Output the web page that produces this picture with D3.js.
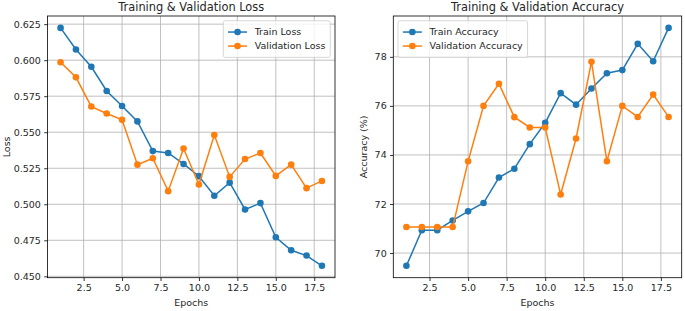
<!DOCTYPE html>
<html>
<head>
<meta charset="utf-8">
<script src="https://cdn.jsdelivr.net/npm/d3@7"></script>
<style>
  html, body { margin: 0; padding: 0; background: #fff; }
  svg { display: block; font-family: "DejaVu Sans", sans-serif; }
</style>
</head>
<body>
<svg id="chart" width="685" height="311"></svg>
<script>
// ---- Data ----
const epochs = [1,2,3,4,5,6,7,8,9,10,11,12,13,14,15,16,17,18];
const trainLoss = [0.6224,0.6074,0.5954,0.5786,0.5682,0.5575,0.5369,0.5356,0.5280,0.5195,0.5059,0.5150,0.4964,0.5008,0.4771,0.4681,0.4644,0.4573];
const valLoss = [0.5986,0.5881,0.5678,0.5630,0.5586,0.5275,0.5319,0.5091,0.5387,0.5137,0.5480,0.5190,0.5314,0.5356,0.5197,0.5275,0.5112,0.5162];
const trainAcc = [69.48,70.93,70.93,71.33,71.70,72.04,73.08,73.44,74.44,75.31,76.52,76.05,76.71,77.33,77.46,78.53,77.82,79.18];
const valAcc = [71.06,71.06,71.06,71.06,73.74,76.00,76.90,75.54,75.12,75.12,72.39,74.67,77.80,73.74,76.00,75.55,76.46,75.55];
const xTicks = [2.5,5.0,7.5,10.0,12.5,15.0,17.5];
const lossTicks = [0.450,0.475,0.500,0.525,0.550,0.575,0.600,0.625];
const accTicks = [70,72,74,76,78];

const C_TRAIN = "#1f77b4", C_VAL = "#ff7f0e";
const svg = d3.select("#chart");
const FS = 9.5;
const MR = 3.3;

function panel(opts) {
  const {left, right, top, bottom, title, ylabel, yTicks, yFmt, s1, s2, n1, n2, legendSide, ylabelX} = opts;
  const g = svg.append("g");
  const xExt = d3.extent(epochs), xm = (xExt[1]-xExt[0])*0.05;
  const x = d3.scaleLinear().domain([xExt[0]-xm, xExt[1]+xm]).range([left, right]);
  const all = s1.concat(s2);
  const yExt = d3.extent(all), ym = (yExt[1]-yExt[0])*0.05;
  const y = d3.scaleLinear().domain([yExt[0]-ym, yExt[1]+ym]).range([bottom, top]);

  // grid
  g.append("g").selectAll("line").data(xTicks).join("line")
    .attr("x1", d => x(d)).attr("x2", d => x(d)).attr("y1", top).attr("y2", bottom)
    .attr("stroke", "#b0b0b0").attr("stroke-width", 0.8);
  g.append("g").selectAll("line").data(yTicks).join("line")
    .attr("x1", left).attr("x2", right).attr("y1", d => y(d)).attr("y2", d => y(d))
    .attr("stroke", "#b0b0b0").attr("stroke-width", 0.8);

  // axes
  const xAxis = d3.axisBottom(x).tickValues(xTicks).tickFormat(d3.format(".1f")).tickSize(3.3).tickPadding(3.3);
  const yAxis = d3.axisLeft(y).tickValues(yTicks).tickFormat(yFmt).tickSize(3.3).tickPadding(3.3);
  const gx = g.append("g").attr("transform", `translate(0,${bottom})`).call(xAxis);
  const gy = g.append("g").attr("transform", `translate(${left},0)`).call(yAxis);
  [gx, gy].forEach(a => {
    a.select(".domain").remove();
    a.selectAll("text").attr("font-size", FS).attr("fill", "#262626").attr("font-family", "DejaVu Sans");
    a.selectAll("line").attr("stroke", "#000").attr("stroke-width", 0.8);
  });

  // series
  const line = d3.line().x((d,i) => x(epochs[i])).y(d => y(d));
  [[s1, C_TRAIN],[s2, C_VAL]].forEach(([s, c]) => {
    g.append("path").datum(s).attr("d", line).attr("fill", "none").attr("stroke", c).attr("stroke-width", 1.5);
    g.append("g").selectAll("circle").data(s).join("circle")
      .attr("cx", (d,i) => x(epochs[i])).attr("cy", d => y(d)).attr("r", MR).attr("fill", c);
  });

  // frame
  g.append("rect").attr("x", left).attr("y", top).attr("width", right-left).attr("height", bottom-top)
    .attr("fill", "none").attr("stroke", "#000").attr("stroke-width", 0.8);

  // title & labels
  g.append("text").attr("x", (left+right)/2).attr("y", 11).attr("text-anchor", "middle")
    .attr("font-size", 11.4).attr("fill", "#262626").text(title);
  g.append("text").attr("x", (left+right)/2).attr("y", 306).attr("text-anchor", "middle")
    .attr("font-size", FS).attr("fill", "#262626").text("Epochs");
  g.append("text").attr("transform", `translate(${ylabelX},${(top+bottom)/2}) rotate(-90)`)
    .attr("text-anchor", "middle").attr("font-size", FS).attr("fill", "#262626").text(ylabel);

  // legend
  const lg = g.append("g");
  const names = [n1, n2];
  const tmp = lg.selectAll("text.tmp").data(names).join("text").attr("font-size", FS).text(d => d);
  let tw = 0; tmp.each(function(){ tw = Math.max(tw, this.getComputedTextLength()); });
  tmp.remove();
  const pad = 3.8, hl = 19, htp = 7.6, rowH = 14;
  const w = pad*2 + hl + htp + tw + 2, h = pad*2 + rowH*2 + 1;
  const lx = legendSide === "right" ? right - 4.75 - w : left + 4.75;
  const ly = top + 4.75;
  lg.append("rect").attr("x", lx).attr("y", ly).attr("width", w).attr("height", h).attr("rx", 2)
    .attr("fill", "#fff").attr("fill-opacity", 0.8).attr("stroke", "#cccccc").attr("stroke-width", 0.8);
  names.forEach((nm, i) => {
    const cy = ly + pad + rowH*i + rowH/2 + 0.5;
    const c = i === 0 ? C_TRAIN : C_VAL;
    lg.append("line").attr("x1", lx+pad+1).attr("x2", lx+pad+1+hl).attr("y1", cy).attr("y2", cy)
      .attr("stroke", c).attr("stroke-width", 1.5);
    lg.append("circle").attr("cx", lx+pad+1+hl/2).attr("cy", cy).attr("r", MR).attr("fill", c);
    lg.append("text").attr("x", lx+pad+1+hl+htp).attr("y", cy).attr("dy", "0.35em")
      .attr("font-size", FS).attr("fill", "#262626").text(nm);
  });
}

panel({left: 47.5, right: 335, top: 16, bottom: 277.7, title: "Training & Validation Loss", ylabel: "Loss",
  yTicks: lossTicks, yFmt: d3.format(".3f"), s1: trainLoss, s2: valLoss, n1: "Train Loss", n2: "Validation Loss",
  legendSide: "right", ylabelX: 10});
panel({left: 393.3, right: 681.7, top: 16, bottom: 277.7, title: "Training & Validation Accuracy", ylabel: "Accuracy (%)",
  yTicks: accTicks, yFmt: d3.format("d"), s1: trainAcc, s2: valAcc, n1: "Train Accuracy", n2: "Validation Accuracy",
  legendSide: "left", ylabelX: 367});
</script>
</body>
</html>
